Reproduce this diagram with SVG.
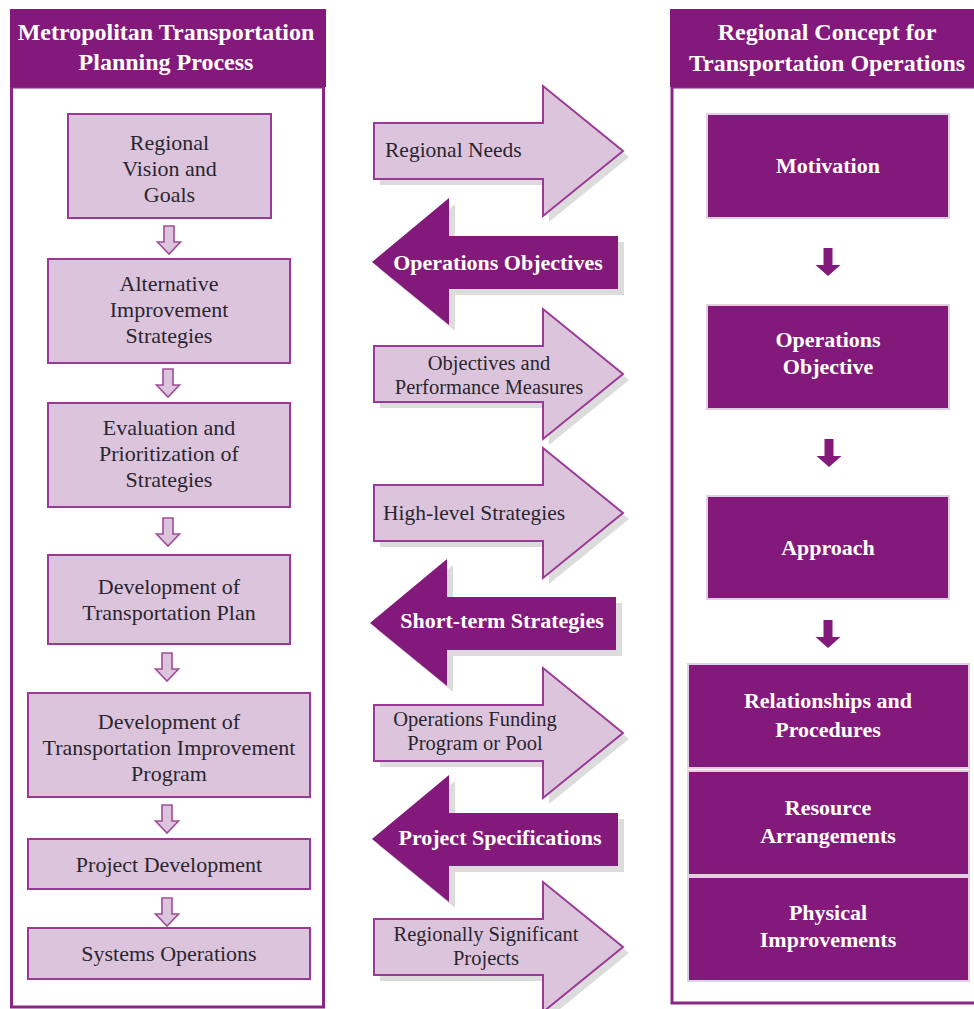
<svg xmlns="http://www.w3.org/2000/svg" width="974" height="1009" viewBox="0 0 974 1009">
<defs>
<style>
.hdr{fill:#831a7b}
.panel{fill:#ffffff;stroke:#8a2784;stroke-width:3}
.lbox{fill:#dcc5dc;stroke:#9b3a96;stroke-width:2}
.dbox{fill:#831a7b;stroke:#e2cfe2;stroke-width:2}
.larr{fill:#dcc5dc;stroke:#9b3a96;stroke-width:2}
.darr{fill:#831a7b;stroke:none}
.shadow{fill:#dcdcdc}
.hollow{fill:#dcc5dc;stroke:#a04d9b;stroke-width:1.6;stroke-linejoin:miter}
.solid{fill:#831a7b}
text{font-family:"Liberation Serif","Times New Roman",serif;text-anchor:middle}
.ht{font-size:24px;font-weight:bold;fill:#ffffff}
.lt{font-size:22px;fill:#2a2630}
.wt{font-size:22px;font-weight:bold;fill:#ffffff}
.at{font-size:21.5px;fill:#2a2630}
.at2{font-size:20.5px;fill:#2a2630}
.st{text-anchor:start}
</style>
<path id="rarrow" d="M0,-28 H169 V-65 L249,0 L169,65 V28 H0 Z"/>
<path id="larrow" d="M0,0 L77,-64 V-26 H246 V27 H77 V63 Z"/>
<path id="hol" d="M-5,0 H5 V16 H11.5 L0,28 L-11.5,16 H-5 Z"/>
<path id="sol" d="M-4.5,0 H4.5 V17 H12.5 L0,28 L-12.5,17 H-4.5 Z"/>
</defs>
<rect width="974" height="1009" fill="#ffffff"/>

<!-- Left panel -->
<g id="left-panel">
<rect class="panel" x="11.5" y="87" width="312" height="920"/>
<rect class="hdr" x="10" y="9" width="316" height="78"/>
<text class="ht" x="166" y="40">Metropolitan Transportation</text>
<text class="ht" x="166" y="70">Planning Process</text>
</g>

<!-- Right panel -->
<g id="right-panel">
<rect class="panel" x="672" y="87" width="310" height="916"/>
<rect class="hdr" x="670" y="9" width="306" height="78"/>
<text class="ht" x="827" y="40">Regional Concept for</text>
<text class="ht" x="827" y="71">Transportation Operations</text>
</g>

<!-- Left column nodes -->
<g id="regional-vision">
<rect class="lbox" x="68" y="114" width="203" height="104"/>
<text class="lt" x="169.5" y="150">Regional</text>
<text class="lt" x="169.5" y="176">Vision and</text>
<text class="lt" x="169.5" y="202">Goals</text>
</g>
<g id="alternative-strategies">
<rect class="lbox" x="48" y="259" width="242" height="104"/>
<text class="lt" x="169" y="291">Alternative</text>
<text class="lt" x="169" y="317">Improvement</text>
<text class="lt" x="169" y="343">Strategies</text>
</g>
<g id="evaluation">
<rect class="lbox" x="48" y="403" width="242" height="104"/>
<text class="lt" x="169" y="435">Evaluation and</text>
<text class="lt" x="169" y="461">Prioritization of</text>
<text class="lt" x="169" y="487">Strategies</text>
</g>
<g id="transportation-plan">
<rect class="lbox" x="48" y="555" width="242" height="89"/>
<text class="lt" x="169" y="594">Development of</text>
<text class="lt" x="169" y="620">Transportation Plan</text>
</g>
<g id="tip">
<rect class="lbox" x="28" y="693" width="282" height="104"/>
<text class="lt" x="169" y="729">Development of</text>
<text class="lt" x="169" y="755">Transportation Improvement</text>
<text class="lt" x="169" y="781">Program</text>
</g>
<g id="project-development">
<rect class="lbox" x="28" y="839" width="282" height="50"/>
<text class="lt" x="169" y="872">Project Development</text>
</g>
<g id="systems-operations">
<rect class="lbox" x="28" y="928" width="282" height="51"/>
<text class="lt" x="169" y="961">Systems Operations</text>
</g>

<!-- Right column nodes -->
<g id="motivation">
<rect class="dbox" x="707" y="114" width="242" height="104"/>
<text class="wt" x="828" y="173">Motivation</text>
</g>
<g id="operations-objective">
<rect class="dbox" x="707" y="305" width="242" height="104"/>
<text class="wt" x="828" y="347">Operations</text>
<text class="wt" x="828" y="374">Objective</text>
</g>
<g id="approach">
<rect class="dbox" x="707" y="496" width="242" height="103"/>
<text class="wt" x="828" y="555">Approach</text>
</g>
<g id="relationships">
<rect class="dbox" x="688" y="664" width="281" height="104"/>
<text class="wt" x="828" y="708">Relationships and</text>
<text class="wt" x="828" y="737">Procedures</text>
</g>
<g id="resource-arrangements">
<rect class="dbox" x="688" y="771" width="281" height="104"/>
<text class="wt" x="828" y="815">Resource</text>
<text class="wt" x="828" y="843">Arrangements</text>
</g>
<g id="physical-improvements">
<rect class="dbox" x="688" y="877" width="281" height="104"/>
<text class="wt" x="828" y="920">Physical</text>
<text class="wt" x="828" y="947">Improvements</text>
</g>

<!-- Middle exchange arrows -->
<g id="regional-needs">
<use href="#rarrow" class="shadow" x="380" y="157"/>
<use href="#rarrow" class="larr" x="374" y="151"/>
<text class="at st" x="385" y="157">Regional Needs</text>
</g>
<g id="operations-objectives">
<use href="#larrow" class="shadow" x="378" y="268"/>
<use href="#larrow" class="darr" x="372" y="262"/>
<text class="wt" x="498" y="270">Operations Objectives</text>
</g>
<g id="objectives-measures">
<use href="#rarrow" class="shadow" x="380" y="380"/>
<use href="#rarrow" class="larr" x="374" y="374"/>
<text class="at2" x="489" y="370">Objectives and</text>
<text class="at2" x="489" y="394">Performance Measures</text>
</g>
<g id="high-level-strategies">
<use href="#rarrow" class="shadow" x="380" y="519"/>
<use href="#rarrow" class="larr" x="374" y="513"/>
<text class="at st" x="383" y="520">High-level Strategies</text>
</g>
<g id="short-term-strategies">
<use href="#larrow" class="shadow" x="376" y="629"/>
<use href="#larrow" class="darr" x="370" y="623"/>
<text class="wt" x="502" y="628">Short-term Strategies</text>
</g>
<g id="operations-funding">
<use href="#rarrow" class="shadow" x="380" y="739"/>
<use href="#rarrow" class="larr" x="374" y="733"/>
<text class="at2" x="475" y="726">Operations Funding</text>
<text class="at2" x="475" y="750">Program or Pool</text>
</g>
<g id="project-specifications">
<use href="#larrow" class="shadow" x="378" y="845"/>
<use href="#larrow" class="darr" x="372" y="839"/>
<text class="wt" x="500" y="845">Project Specifications</text>
</g>
<g id="regionally-significant">
<use href="#rarrow" class="shadow" x="380" y="953"/>
<use href="#rarrow" class="larr" x="374" y="947"/>
<text class="at2" x="486" y="941">Regionally Significant</text>
<text class="at2" x="486" y="965">Projects</text>
</g>

<!-- Connectors -->
<g id="connectors">
<use href="#hol" class="hollow" x="169" y="226"/>
<use href="#hol" class="hollow" x="168" y="369"/>
<use href="#hol" class="hollow" x="168" y="518"/>
<use href="#hol" class="hollow" x="167" y="653"/>
<use href="#hol" class="hollow" x="167" y="805"/>
<use href="#hol" class="hollow" x="167" y="898"/>
<use href="#sol" class="solid" x="828" y="248"/>
<use href="#sol" class="solid" x="829" y="439"/>
<use href="#sol" class="solid" x="828" y="620"/>
</g>
</svg>
